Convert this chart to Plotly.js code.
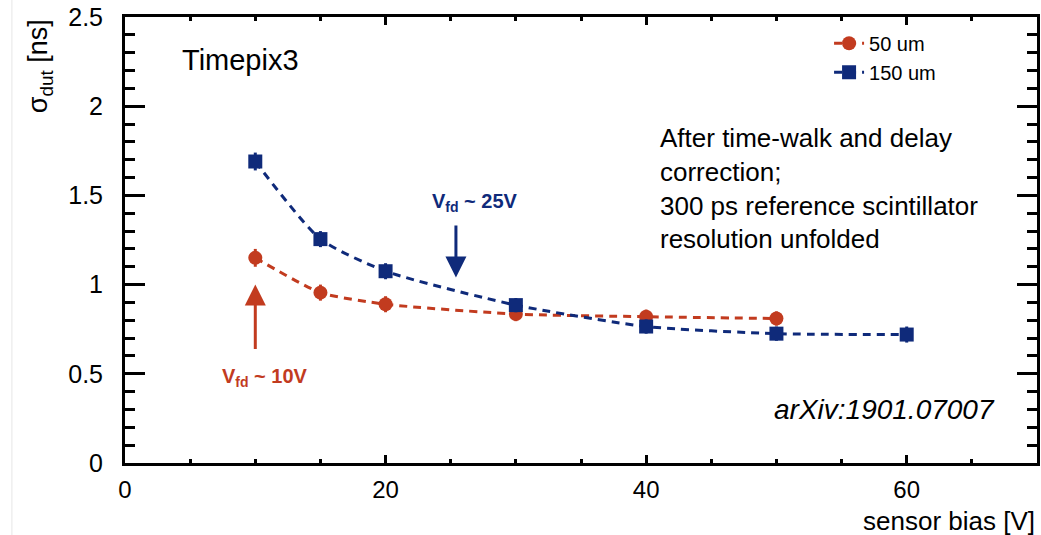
<!DOCTYPE html>
<html>
<head>
<meta charset="utf-8">
<script src="https://cdn.plot.ly/plotly-3.0.1.min.js"></script>
<style>html,body{margin:0;padding:0;background:#fff;}#chart{width:1041px;height:535px;}</style>
</head>
<body>
<div id="chart"></div>
<script>
// Data
const bias50 = [10, 15, 20, 30, 40, 50];
const sigma50 = [1.15, 0.955, 0.89, 0.835, 0.82, 0.81];
const err50 = [0.05, 0.045, 0.045, 0.04, 0.04, 0.04];

const bias150 = [10, 15, 20, 30, 40, 50, 60];
const sigma150 = [1.69, 1.255, 1.075, 0.885, 0.765, 0.725, 0.72];
const err150 = [0.05, 0.045, 0.045, 0.04, 0.04, 0.04, 0.045];

const seriesNames = ["50 um", "150 um"];
const xTicks = [0, 20, 40, 60];
const yTicks = [0, 0.5, 1, 1.5, 2, 2.5];

const RED = "#c23b1f";
const BLUE = "#0f2a7a";
const FONT = "Liberation Sans, Arial, Helvetica, sans-serif";

const traces = [
  {
    x: bias50, y: sigma50, name: seriesNames[0], type: "scatter", mode: "lines+markers",
    line: {color: RED, width: 3, dash: "8px,6px", shape: "spline", smoothing: 0.6},
    marker: {color: RED, size: 14, symbol: "circle"},
    error_y: {type: "data", array: err50, visible: true, color: RED, thickness: 3, width: 0}
  },
  {
    x: bias150, y: sigma150, name: seriesNames[1], type: "scatter", mode: "lines+markers",
    line: {color: BLUE, width: 3, dash: "8px,6px", shape: "spline", smoothing: 0.6},
    marker: {color: BLUE, size: 14, symbol: "square"},
    error_y: {type: "data", array: err150, visible: true, color: BLUE, thickness: 3, width: 0}
  }
];

const axisCommon = {
  showline: true, linecolor: "#000", linewidth: 3, mirror: "allticks",
  ticks: "inside", tickcolor: "#000", tickwidth: 3,
  showgrid: false, zeroline: false,
  tickfont: {family: FONT, size: 25, color: "#000"}
};

const layout = {
  width: 1041, height: 535,
  margin: {l: 125, r: 4, t: 17, b: 72},
  paper_bgcolor: "#fff", plot_bgcolor: "#fff",
  font: {family: FONT, color: "#000"},
  showlegend: true,
  legend: {
    x: 0.772, y: 0.985, xanchor: "left", yanchor: "top",
    bgcolor: "rgba(0,0,0,0)", font: {family: FONT, size: 20, color: "#000"},
    itemwidth: 30, tracegroupgap: 0
  },
  xaxis: Object.assign({}, axisCommon, {
    range: [0, 70], tickvals: xTicks, ticklen: 8, ticklabelstandoff: 3,
    tickfont: {family: FONT, size: 24, color: "#000"},
    minor: {dtick: 5, ticklen: 4, tickwidth: 3, tickcolor: "#000", ticks: "inside"}
  }),
  yaxis: Object.assign({}, axisCommon, {
    range: [0, 2.5], tickvals: yTicks, ticktext: ["0", "0.5", "1", "1.5", "2", "2.5"],
    ticklen: 20, ticklabelstandoff: 14,
    minor: {dtick: 0.1, ticklen: 10, tickwidth: 3, tickcolor: "#000", ticks: "inside"}
  }),
  shapes: [
    {type: "line", xref: "paper", yref: "paper", x0: -0.124, x1: -0.124, y0: -0.17, y1: 1.04,
     line: {color: "#e6e6e6", width: 1}}
  ],
  annotations: [
    {xref: "paper", yref: "paper", x: -0.093, y: 1.0, xanchor: "center", yanchor: "top",
     text: "σ<sub>dut</sub> [ns]", textangle: -90, showarrow: false,
     font: {family: FONT, size: 27, color: "#000"}},
    {xref: "paper", yref: "paper", x: 1.0, y: -0.13, xanchor: "right", yanchor: "middle",
     text: "sensor bias [V]", showarrow: false,
     font: {family: FONT, size: 26, color: "#000"}},
    {xref: "x", yref: "y", x: 4.2, y: 2.26, xanchor: "left", yanchor: "middle",
     text: "Timepix3", showarrow: false, font: {family: FONT, size: 29, color: "#000"}},
    {xref: "x", yref: "y", x: 40.9, y: 1.536, xanchor: "left", yanchor: "middle", align: "left",
     text: "After time-walk and delay<br>correction;<br>300 ps reference scintillator<br>resolution unfolded",
     showarrow: false, font: {family: FONT, size: 26, color: "#000"}},
    {xref: "x", yref: "y", x: 58.3, y: 0.3, xanchor: "center", yanchor: "middle",
     text: "<i>arXiv:1901.07007</i>", showarrow: false, font: {family: FONT, size: 28, color: "#000"}},
    {xref: "x", yref: "y", x: 26.9, y: 1.46, xanchor: "center", yanchor: "middle",
     text: "<b>V<sub>fd</sub> ~ 25V</b>", showarrow: false, font: {family: FONT, size: 20, color: BLUE}},
    {xref: "x", yref: "y", x: 10.75, y: 0.48, xanchor: "center", yanchor: "middle",
     text: "<b>V<sub>fd</sub> ~ 10V</b>", showarrow: false, font: {family: FONT, size: 20, color: RED}},
    {xref: "x", yref: "y", x: 25.4, y: 1.04, axref: "x", ayref: "y", ax: 25.4, ay: 1.34,
     text: "", showarrow: true, arrowhead: 2, arrowsize: 1.4, arrowwidth: 3, arrowcolor: BLUE},
    {xref: "x", yref: "y", x: 10.0, y: 1.0, axref: "x", ayref: "y", ax: 10.0, ay: 0.63,
     text: "", showarrow: true, arrowhead: 2, arrowsize: 1.4, arrowwidth: 3, arrowcolor: RED}
  ]
};

Plotly.newPlot("chart", traces, layout, {staticPlot: true, displayModeBar: false});
</script>
</body>
</html>
